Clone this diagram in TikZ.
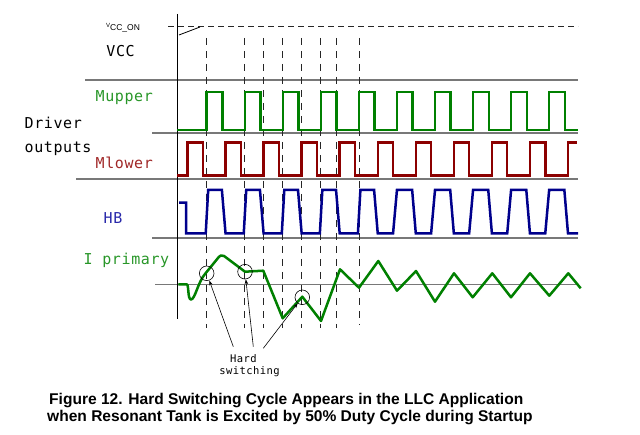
\documentclass[tikz,border=0pt]{standalone}
\usepackage{fontspec}
\setmainfont{Liberation Sans}
\newfontfamily\lbl[LetterSpace=4]{DejaVu Sans Mono}
\usetikzlibrary{arrows.meta}
\definecolor{wgreen}{RGB}{0,128,0}
\definecolor{wred}{RGB}{140,0,0}
\definecolor{wblue}{RGB}{0,0,140}
\definecolor{lgreen}{RGB}{40,150,40}
\definecolor{lred}{RGB}{160,40,40}
\definecolor{lblue}{RGB}{40,40,170}
\definecolor{basegray}{RGB}{120,120,120}
\tikzset{
  lab/.style={font=\lbl\fontsize{15}{15}\selectfont, inner sep=0pt, anchor=base west},
  smalllab/.style={font=\lbl\fontsize{10.5}{10.5}\selectfont, inner sep=0pt, anchor=base},
  baseln/.style={draw=basegray, line width=1.3pt},
  axisln/.style={draw=black, line width=0.8pt},
  vdash/.style={draw=black!85, line width=0.8pt, dash pattern=on 7pt off 6pt},
  hdash/.style={draw=black!85, line width=1pt, dash pattern=on 6pt off 4pt},
  wave/.style={line width=2.5pt, line join=miter},
  hsw/.style={circle, draw=black, line width=0.6pt, minimum size=14.6pt, inner sep=0pt},
  harrow/.style={draw=black, line width=0.6pt, -{Stealth[length=5pt,width=3.5pt]}},
  captxt/.style={font=\bfseries\fontsize{15.55}{17}\selectfont, inner sep=0pt, anchor=base west}
}
\begin{document}
\begin{tikzpicture}[x=1pt,y=-1pt]
\useasboundingbox (0,0) rectangle (640,435);

% separator / zero lines
\draw[baseln] (85,80) -- (578,80);
\draw[baseln] (152,133) -- (578,133);
\draw[baseln] (76,179) -- (578,179);
\draw[baseln] (152,238) -- (578,238);
\draw[baseln] (155,284.3) -- (578,284.3);

% vertical axis
\draw[axisln] (177,14) -- (177,319);

% VCC_ON threshold and ramp
\draw[hdash] (168,27) -- (578,27);
\draw[black, line width=0.8pt] (179,35) -- (200,27);

% dashed timing lines
\foreach \xx in {206.7,244.75,263.6,282.8,301.65,320.85,336.55}
  \draw[vdash] (\xx,38) -- (\xx,328);
\draw[vdash] (358.9,38) -- (358.9,325);

% Mupper
\draw[wave, wgreen] (177,130) \foreach \k in {0,...,9}{
  -- ({206.7+38.05*\k},130) -- ++(0,-38) -- ++(15.7,0) -- ++(0,38)} -- (578,130);

% Mlower
\draw[wave, wred] (177,175.7) \foreach \k in {0,...,9}{
  -- ({187.5+38.05*\k},175.7) -- ++(0,-33) -- ++(15.3,0) -- ++(0,33)}
  -- (568,175.7) -- (568,142.7) -- (576.7,142.7);

% HB
\draw[wave, wblue] (179,202.7) -- (186,202.7) -- (186,233.5)
  \foreach \k in {0,...,4}{
    -- ({206.7+38.05*\k-1},233.5) -- ({206.7+38.05*\k+1.5},190)
    -- ({206.7+38.05*\k+15.2},190) -- ({206.7+38.05*\k+18.85},233.5)}
  \foreach \k in {5,...,9}{
    -- ({206.7+38.05*\k-3.9},233.5) -- ({206.7+38.05*\k},190)
    -- ({206.7+38.05*\k+15.2},190) -- ({206.7+38.05*\k+18.85},233.5)}
  -- (578,233.5);

% I primary
\draw[wave, wgreen, line join=round] (178.3,284.3) -- (186.7,284.3)
  .. controls (189,284.3) and (187.5,299.5) .. (191,299.5)
  .. controls (195,299.5) and (198,282) .. (205,274)
  -- (218,258) .. controls (220,255.5) and (222,254.5) .. (224,256)
  -- (245,271.7) -- (263.3,270.7) -- (282.7,318.3) -- (302.3,296.7)
  -- (321,321) -- (340,269.3) -- (359,287.7) -- (378.3,261)
  -- (397,290.7) -- (416,271) -- (435,301.7) -- (454,273.3)
  -- (472.7,297.3) -- (492.3,273.3) -- (511,297.3) -- (530,273.3)
  -- (549.3,295.7) -- (568.3,273.3) -- (580.7,288.3);

% hard switching circles
\node[hsw] (c1) at (206.7,273.3) {};
\node[hsw] (c2) at (245,271.7) {};
\node[hsw] (c3) at (302.3,297.3) {};

% labels
\node[inner sep=0pt, anchor=base west, font=\fontsize{6}{6}\selectfont] (vv) at (105.8,27.3) {V};
\node[inner sep=0pt, anchor=base west, font=\fontsize{8.5}{8.5}\selectfont] (vsub) at (110,30.7) {CC\_ON};
\node[lab] (vcc) at (106.2,56.7) {VCC};
\node[lab, text=lgreen] (mup) at (95.5,101.7) {Mupper};
\node[lab] (drv) at (24.5,128.3) {Driver};
\node[lab] (out) at (24.5,152.7) {outputs};
\node[lab, text=lred] (mlo) at (95.5,168.3) {Mlower};
\node[lab, text=lblue] (hb) at (103.5,223.3) {HB};
\node[lab, text=lgreen] (ipr) at (83.5,265) {I primary};

\node[smalllab] (hard) at (243.3,362.7) {Hard};
\node[smalllab] (sw) at (249.5,375) {switching};

\coordinate (a1) at (233.3,346.7);
\coordinate (a2) at (253.3,346.7);
\coordinate (a3) at (263.3,348.3);
\draw[harrow] (a1) -- (c1);
\draw[harrow] (a2) -- (c2);
\draw[harrow] (a3) -- (c3);

% caption
\node[captxt] (cap1) at (49,404.3) {Figure 12. Hard Switching Cycle Appears in the LLC Application};
\node[captxt] (cap2) at (47,421.7) {when Resonant Tank is Excited by 50\% Duty Cycle during Startup};
\end{tikzpicture}
\end{document}
